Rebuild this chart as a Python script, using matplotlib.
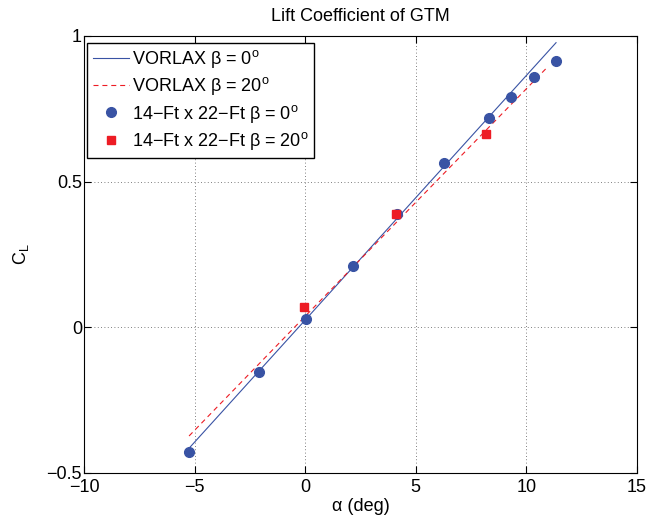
#!/usr/bin/env python3
"""Lift coefficient of GTM: VORLAX prediction vs 14-Ft x 22-Ft tunnel data."""

import matplotlib

matplotlib.use("Agg")
import matplotlib.pyplot as plt

BLUE = "#3953a4"
RED = "#ed1c24"

# VORLAX predictions (straight lines, endpoints)
vorlax_alpha_b0 = [-5.25, 0.0, 5.0, 11.34]
vorlax_cl_b0 = [-0.415, 0.025, 0.445, 0.977]
vorlax_alpha_b20 = [-5.25, 0.0, 5.0, 10.95]
vorlax_cl_b20 = [-0.373, 0.038, 0.429, 0.893]

# 14-Ft x 22-Ft wind tunnel data
tunnel_alpha_b0 = [-5.25, -2.07, 0.04, 2.16, 4.14, 6.27, 8.29, 9.30, 10.33, 11.35]
tunnel_cl_b0 = [-0.429, -0.153, 0.029, 0.211, 0.388, 0.563, 0.717, 0.792, 0.860, 0.914]
tunnel_alpha_b20 = [-0.04, 4.10, 8.17]
tunnel_cl_b20 = [0.069, 0.388, 0.663]

x_ticks = [-10, -5, 0, 5, 10, 15]
y_ticks = [-0.5, 0, 0.5, 1]
y_tick_labels = ["\u22120.5", "0", "0.5", "1"]

plt.rcParams.update(
    {
        "font.family": ["Liberation Sans", "DejaVu Sans"],
        "font.size": 13,
        "mathtext.fontset": "custom",
        "mathtext.rm": "Liberation Sans",
        "mathtext.it": "Liberation Sans",
        "mathtext.bf": "Liberation Sans:bold",
        "axes.linewidth": 0.8,
    }
)

fig = plt.figure(figsize=(6.5, 5.2), dpi=100, facecolor="white")
ax = fig.add_axes([0.1292, 0.0904, 0.8508, 0.8404])

ax.plot(vorlax_alpha_b0, vorlax_cl_b0, "-", color=BLUE, lw=0.8,
        label=r"VORLAX β = 0$^{\rm o}$")
ax.plot(vorlax_alpha_b20, vorlax_cl_b20, "--", color=RED, lw=0.8, dashes=(4.5, 3.5),
        label=r"VORLAX β = 20$^{\rm o}$")
ax.plot(tunnel_alpha_b0, tunnel_cl_b0, "o", color=BLUE, ms=7, mec=BLUE,
        label=r"14−Ft x 22−Ft β = 0$^{\rm o}$")
ax.plot(tunnel_alpha_b20, tunnel_cl_b20, "s", color=RED, ms=5.5, mec=RED,
        label=r"14−Ft x 22−Ft β = 20$^{\rm o}$")

ax.set_xlim(-10, 15)
ax.set_ylim(-0.5, 1)
ax.set_xticks(x_ticks)
ax.set_xticklabels([str(v).replace("-", "\u2212") for v in x_ticks])
ax.set_yticks(y_ticks)
ax.set_yticklabels(y_tick_labels)
ax.tick_params(direction="in", top=True, right=True, length=5, width=0.8,
               labelsize=13)
ax.tick_params(axis="x", pad=4)
ax.tick_params(axis="y", pad=1.5)
ax.grid(True, linestyle=(0, (1, 3)), color="#555555", linewidth=0.6)

ax.set_title("Lift Coefficient of GTM", fontsize=13, pad=11)
ax.set_xlabel("α (deg)", fontsize=13, labelpad=2)
ax.set_ylabel(r"C$_{\rm L}$", fontsize=13, labelpad=11)

leg = ax.legend(
    loc="upper left",
    bbox_to_anchor=(0.006, 0.985),
    borderaxespad=0,
    fontsize=13,
    frameon=True,
    fancybox=False,
    edgecolor="black",
    framealpha=1,
    handlelength=2.0,
    handletextpad=0.15,
    labelspacing=0.3,
    borderpad=0.3,
)
leg.get_frame().set_linewidth(1.0)

fig.savefig("out.png", dpi=100, facecolor="white")
